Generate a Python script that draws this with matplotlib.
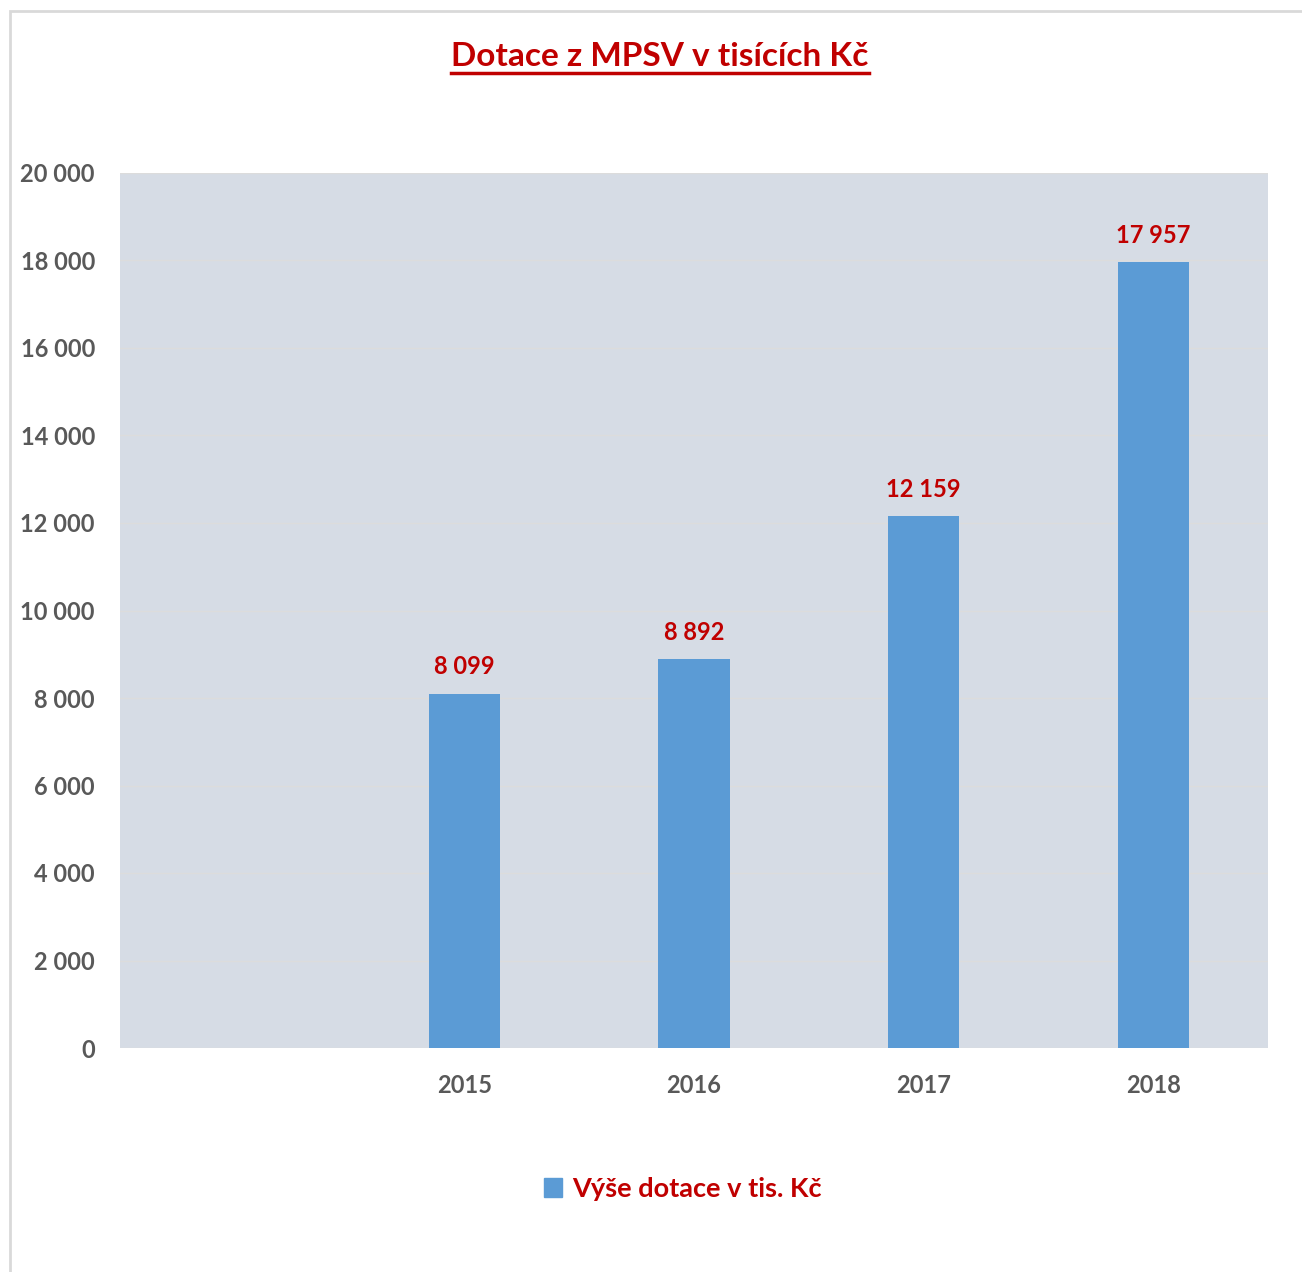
import numpy as np
import matplotlib.pyplot as plt
from matplotlib.lines import Line2D
from matplotlib.patches import Rectangle

# data
categories = ['', '2015', '2016', '2017', '2018']
values = [np.nan, 8099, 8892, 12159, 17957]
yticks = [0, 2000, 4000, 6000, 8000, 10000, 12000, 14000, 16000, 18000, 20000]

red = '#C00000'
grey = '#595959'
bar_c = '#5B9BD5'
bg = '#D6DCE5'

plt.rcParams['font.family'] = ['Lato', 'DejaVu Sans']
plt.rcParams['font.weight'] = 'bold'


def fmt(v):
    return f'{int(v):,}'.replace(',', ' ')


fig = plt.figure(figsize=(13.02, 12.72), dpi=100)
fig.patches.append(Rectangle((10 / 1302, -0.1), 1.2, 1 - 11 / 1272 + 0.1,
                             transform=fig.transFigure, fill=False,
                             ec='#D9D9D9', lw=2))

ax = fig.add_axes([120 / 1302, 224 / 1272, 1148 / 1302, 875 / 1272])
ax.set_facecolor(bg)
x = np.arange(len(categories))
bars = ax.bar(x, values, width=0.31, color=bar_c, zorder=3)
ax.set_xlim(-0.5, len(categories) - 0.5)
ax.set_ylim(0, 20000)
ax.set_yticks(yticks)
ax.set_yticklabels([fmt(v) for v in yticks])
ax.set_xticks(x)
ax.set_xticklabels(categories)
ax.tick_params(length=0, labelsize=17, labelcolor=grey)
ax.tick_params(axis='y', pad=18)
ax.tick_params(axis='x', pad=19)
for lab in ax.get_xticklabels() + ax.get_yticklabels():
    lab.set_fontweight('bold')
ax.grid(axis='y', color='#DCDCDC', lw=1, zorder=1)
for s in ax.spines.values():
    s.set_visible(False)

for xi, v in zip(x, values):
    if np.isnan(v):
        continue
    ax.annotate(fmt(v), (xi, v), xytext=(0, 11), textcoords='offset points',
                ha='center', va='bottom', color=red, fontsize=17, fontweight='bold')

t = fig.text(660 / 1302, 1 - 56 / 1272, 'Dotace z MPSV v tisících Kč', ha='center',
             va='center', color=red, fontsize=24, fontweight='bold')
fig.canvas.draw()
bb = t.get_window_extent().transformed(fig.transFigure.inverted())
fig.add_artist(Line2D([bb.x0, bb.x1], [bb.y0 - 0.002, bb.y0 - 0.002],
                      transform=fig.transFigure, color=red, lw=2.5))

leg = fig.legend([Rectangle((0, 0), 1, 1, color=bar_c)], ['Výše dotace v tis. Kč'],
                 loc='center', bbox_to_anchor=(683 / 1302, 1 - 1189 / 1272),
                 frameon=False, fontsize=19.5, handlelength=0.65, handleheight=0.65,
                 handletextpad=0.4)
for txt in leg.get_texts():
    txt.set_color(red)
    txt.set_fontweight('bold')

fig.savefig('out.png', dpi=100, facecolor='white')
